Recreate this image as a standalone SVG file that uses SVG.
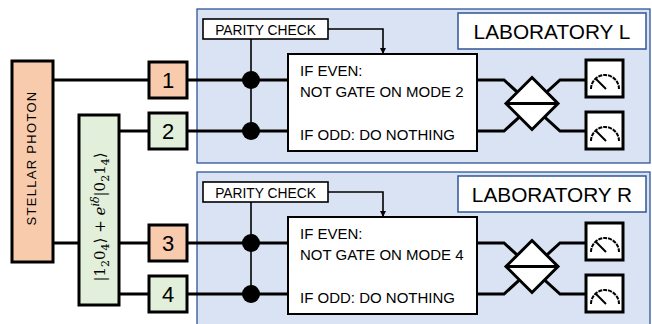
<svg xmlns="http://www.w3.org/2000/svg" width="652" height="324" viewBox="0 0 652 324">
<style>
.ln{fill:none;stroke:#000;stroke-width:3;stroke-linejoin:miter}
.thin{fill:none;stroke:#000;stroke-width:2}
.panel{fill:#DAE3F3;stroke:#2F5597;stroke-width:1.3}
.title{fill:#fff;stroke:#2F5597;stroke-width:1.5}
.orange{fill:#F8CBAD;stroke:#000;stroke-width:3}
.green{fill:#E2EFDA;stroke:#000;stroke-width:3}
.wbox{fill:#fff;stroke:#000;stroke-width:2}
.pbox{fill:#fff;stroke:#000;stroke-width:1.6}
.meter{fill:#fff;stroke:#000;stroke-width:3}
.t{font-family:"Liberation Sans",Arial,sans-serif;fill:#000}
.num{font-size:22px;text-anchor:middle}
.lab{font-size:20.8px;text-anchor:middle}
.par{font-size:13.8px;text-anchor:middle}
.cond{font-size:15px}
.eq{font-family:"DejaVu Serif","Liberation Serif",serif;font-size:15px;fill:#000}
.dot{fill:#000}
</style>
<defs>
<marker id="arr" viewBox="0 0 10 10" refX="10" refY="5" markerWidth="4" markerHeight="4" markerUnits="strokeWidth" orient="auto">
<path d="M0,0 L10,5 L0,10 Z" fill="#000"/>
</marker>
<g id="meterIcon">
<path d="M591,89 A14,14 0 0 1 619,89" class="thin" stroke-dasharray="4 1"/>
<line x1="596" y1="79" x2="606" y2="89" class="thin"/>
</g>
</defs>

<g id="labL">
<rect class="panel" x="197" y="9" width="453" height="154"/>
</g>
<g id="labR">
<rect class="panel" x="197" y="172" width="453" height="156"/>
</g>

<g id="connectors">
<line class="ln" x1="53" y1="80" x2="149" y2="80"/>
<line class="ln" x1="119" y1="131" x2="149" y2="131"/>
<line class="ln" x1="53" y1="243" x2="149" y2="243"/>
<line class="ln" x1="119" y1="294" x2="149" y2="294"/>
<line class="ln" x1="187" y1="80" x2="288" y2="80"/>
<line class="ln" x1="187" y1="131" x2="288" y2="131"/>
<line x1="251" y1="39" x2="251" y2="131" stroke="#000" stroke-width="1.6"/>
<path d="M328,29 H383 V54" fill="none" stroke="#000" stroke-width="1.6" marker-end="url(#arr)"/>
<path class="ln" d="M477,80 H504 L560,131 H586"/>
<path class="ln" d="M477,131 H504 L560,80 H586"/>
<line class="ln" x1="187" y1="243" x2="288" y2="243"/>
<line class="ln" x1="187" y1="294" x2="288" y2="294"/>
<line x1="251" y1="202" x2="251" y2="294" stroke="#000" stroke-width="1.6"/>
<path d="M328,192 H383 V217" fill="none" stroke="#000" stroke-width="1.6" marker-end="url(#arr)"/>
<path class="ln" d="M477,243 H504 L560,294 H586"/>
<path class="ln" d="M477,294 H504 L560,243 H586"/>
</g>

<g id="stellar">
<rect class="orange" x="12" y="61" width="41" height="201"/>
<text class="t" font-size="13" letter-spacing="1.3" text-anchor="middle" transform="translate(35.5,158) rotate(-90)">STELLAR PHOTON</text>
</g>

<g id="entangled">
<rect class="green" x="79" y="115" width="40" height="190"/>
<text class="eq" text-anchor="middle" transform="translate(105,217) rotate(-90)">|1<tspan font-size="11" dy="4">2</tspan><tspan dy="-4">0</tspan><tspan font-size="11" dy="4">4</tspan><tspan dy="-4">⟩ + </tspan><tspan font-style="italic">e</tspan><tspan font-size="11" font-style="italic" dy="-6">iδ</tspan><tspan dy="6">|0</tspan><tspan font-size="11" dy="4">2</tspan><tspan dy="-4">1</tspan><tspan font-size="11" dy="4">4</tspan><tspan dy="-4">⟩</tspan></text>
</g>

<g id="mode1">
<rect class="orange" x="149" y="62" width="38" height="36"/>
<text class="t num" x="168" y="88">1</text>
</g>
<g id="mode2">
<rect class="green" x="149" y="113" width="38" height="36"/>
<text class="t num" x="168" y="139">2</text>
</g>
<g id="mode3">
<rect class="orange" x="149" y="225" width="38" height="36"/>
<text class="t num" x="168" y="251">3</text>
</g>
<g id="mode4">
<rect class="green" x="149" y="276" width="38" height="36"/>
<text class="t num" x="168" y="302">4</text>
</g>

<g id="titleL">
<rect class="title" x="458" y="13" width="188" height="36"/>
<text class="t lab" x="552" y="39">LABORATORY L</text>
</g>
<g id="parityL">
<rect class="pbox" x="203" y="19" width="125" height="20"/>
<text class="t par" x="265.5" y="34.5">PARITY CHECK</text>
</g>
<g id="dotsL">
<circle class="dot" cx="251" cy="80" r="9"/>
<circle class="dot" cx="251" cy="131" r="9"/>
</g>
<g id="gateL">
<rect class="wbox" x="288" y="54" width="189" height="97"/>
<text class="t cond" x="300" y="76">IF EVEN:</text>
<text class="t cond" x="300" y="97">NOT GATE ON MODE 2</text>
<text class="t cond" x="300" y="140">IF ODD: DO NOTHING</text>
</g>
<g id="bsL">
<polygon points="532,77.5 558,103.5 532,129.5 506,103.5" fill="#fff" stroke="#000" stroke-width="3"/>
<line x1="507" y1="103.5" x2="557" y2="103.5" stroke="#000" stroke-width="3"/>
</g>
<g id="detL1">
<rect class="meter" x="586" y="60" width="37" height="37"/>
<use href="#meterIcon"/>
</g>
<g id="detL2">
<rect class="meter" x="586" y="112" width="37" height="37"/>
<use href="#meterIcon" transform="translate(0,52)"/>
</g>

<g id="titleR">
<rect class="title" x="458" y="176" width="188" height="36"/>
<text class="t lab" x="552" y="202">LABORATORY R</text>
</g>
<g id="parityR">
<rect class="pbox" x="203" y="182" width="125" height="20"/>
<text class="t par" x="265.5" y="197.5">PARITY CHECK</text>
</g>
<g id="dotsR">
<circle class="dot" cx="251" cy="243" r="9"/>
<circle class="dot" cx="251" cy="294" r="9"/>
</g>
<g id="gateR">
<rect class="wbox" x="288" y="217" width="189" height="97"/>
<text class="t cond" x="300" y="239">IF EVEN:</text>
<text class="t cond" x="300" y="260">NOT GATE ON MODE 4</text>
<text class="t cond" x="300" y="303">IF ODD: DO NOTHING</text>
</g>
<g id="bsR">
<polygon points="532,240.5 558,266.5 532,292.5 506,266.5" fill="#fff" stroke="#000" stroke-width="3"/>
<line x1="507" y1="266.5" x2="557" y2="266.5" stroke="#000" stroke-width="3"/>
</g>
<g id="detR1">
<rect class="meter" x="586" y="223" width="37" height="37"/>
<use href="#meterIcon" transform="translate(0,163)"/>
</g>
<g id="detR2">
<rect class="meter" x="586" y="275" width="37" height="37"/>
<use href="#meterIcon" transform="translate(0,215)"/>
</g>
</svg>
